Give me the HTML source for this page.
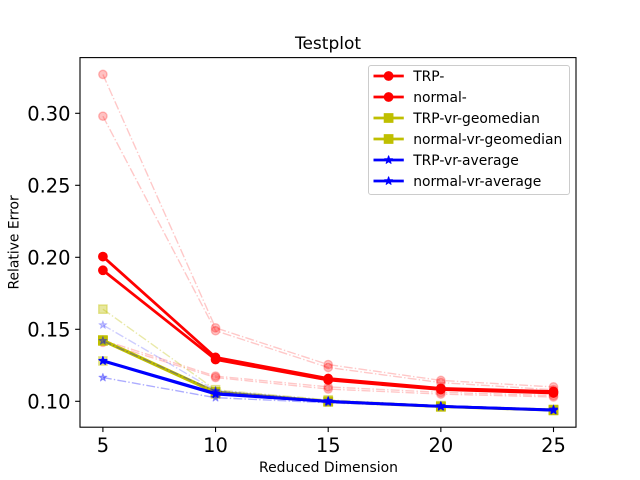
<!DOCTYPE html>
<html>
<head>
<meta charset="utf-8">
<title>Testplot</title>
<style>
html,body{margin:0;padding:0;background:#fff}
svg{display:block}
text{font-family:"DejaVu Sans","Liberation Sans",sans-serif;fill:#000}
</style>
</head>
<body>
<svg id="chart" xmlns="http://www.w3.org/2000/svg" width="640" height="480" viewBox="0 0 640 480">
<rect x="0" y="0" width="640" height="480" fill="#fff"/>
<g id="ticks"></g>
<g id="marks"></g>
<rect x="80" y="57.6" width="496" height="369.6" fill="none" stroke="#000" stroke-width="1.1"/>
<text x="328" y="49" font-size="17" text-anchor="middle">Testplot</text>
<text x="328.5" y="472" font-size="13.95" text-anchor="middle">Reduced Dimension</text>
<text x="0" y="0" transform="translate(18.5,242.4) rotate(-90)" font-size="13.89" text-anchor="middle">Relative Error</text>
<g id="legend">
<rect x="368.5" y="65.5" width="201" height="129" rx="2.5" fill="#fff" fill-opacity="0.8" stroke="#ccc" stroke-width="1"/>
</g>
</svg>
<script>
var categories = [5, 10, 15, 20, 25];
var xTickLabels = ["5", "10", "15", "20", "25"];
var yTicks = [0.10, 0.15, 0.20, 0.25, 0.30];
var yTickLabels = ["0.10", "0.15", "0.20", "0.25", "0.30"];

var trpMain = [0.2005, 0.1305, 0.1158, 0.1090, 0.1068];
var trpUpper = [0.327, 0.151, 0.1255, 0.1145, 0.110];
var trpLower = [0.1425, 0.1175, 0.110, 0.1062, 0.104];
var normalMain = [0.191, 0.129, 0.1148, 0.1082, 0.1058];
var normalUpper = [0.298, 0.149, 0.1235, 0.113, 0.108];
var normalLower = [0.141, 0.1165, 0.1085, 0.105, 0.103];
var geoTrpMain = [0.1425, 0.1065, 0.100, 0.0965, 0.094];
var geoTrpUpper = [0.164, 0.108, 0.101, 0.097, 0.0945];
var geoTrpLower = [0.128, 0.105, 0.0995, 0.096, 0.0935];
var geoNormalMain = [0.142, 0.106, 0.0998, 0.0963, 0.0938];
var avgTrpMain = [0.128, 0.105, 0.100, 0.0965, 0.094];
var avgTrpUpper = [0.153, 0.1075, 0.1005, 0.097, 0.0945];
var avgTrpLower = [0.1165, 0.1025, 0.099, 0.096, 0.0935];
var avgNormalMain = [0.1282, 0.1055, 0.0998, 0.0965, 0.0938];
var avgNormalUpper = [0.142, 0.107, 0.1005, 0.097, 0.0945];

var legendLabels = ["TRP-", "normal-", "TRP-vr-geomedian", "normal-vr-geomedian", "TRP-vr-average", "normal-vr-average"];
var legendColors = ["#ff0000", "#ff0000", "#bfbf00", "#bfbf00", "#0000ff", "#0000ff"];
var legendShapes = ["circle", "circle", "square", "square", "star", "star"];

var NS = "http://www.w3.org/2000/svg";
var PLOT_LEFT = 80, PLOT_RIGHT = 576, PLOT_TOP = 57.6, PLOT_BOTTOM = 427.2;
function xScale(v) { return 102.9 + (v - 5) * 22.53; }
function yScale(v) { return 401.3 - (v - 0.10) * 1440; }

function make(parent, tag, attrs) {
  var el = document.createElementNS(NS, tag);
  for (var k in attrs) { el.setAttribute(k, attrs[k]); }
  parent.appendChild(el);
  return el;
}

function starPoints(cx, cy, r) {
  var pts = [];
  for (var i = 0; i < 10; i++) {
    var rad = i % 2 === 0 ? r : r * 0.381966;
    var a = -Math.PI / 2 + i * Math.PI / 5;
    pts.push((cx + rad * Math.cos(a)).toFixed(2) + "," + (cy + rad * Math.sin(a)).toFixed(2));
  }
  return pts.join(" ");
}

function drawMarker(parent, shape, cx, cy, color, alpha) {
  var style = { fill: color, "fill-opacity": alpha, stroke: color, "stroke-opacity": alpha, "stroke-width": 1.39 };
  var el;
  if (shape === "circle") {
    style.cx = cx; style.cy = cy; style.r = 4.17;
    el = make(parent, "circle", style);
  } else if (shape === "square") {
    style.x = cx - 4.17; style.y = cy - 4.17; style.width = 8.33; style.height = 8.33;
    el = make(parent, "rect", style);
  } else {
    style.points = starPoints(cx, cy, 4.17);
    style["stroke-width"] = 1;
    style["stroke-linejoin"] = "round";
    el = make(parent, "polygon", style);
  }
  return el;
}

function drawSeries(name, values, color, shape, alpha) {
  var root = document.getElementById("marks");
  var g = make(root, "g", {});
  
  
  var pts = values.map(function (v, i) {
    return xScale(categories[i]).toFixed(2) + "," + yScale(v).toFixed(2);
  }).join(" ");
  var attrs = { points: pts, fill: "none", stroke: color, "stroke-linejoin": "round" };
  if (alpha < 1) {
    attrs["stroke-width"] = 1.39;
    attrs["stroke-opacity"] = alpha * 0.9;
    attrs["stroke-dasharray"] = "8.9 2.2 1.4 2.2";
  } else {
    attrs["stroke-width"] = 2.78;
  }
  var line = make(g, "polyline", attrs);
  
  
  values.forEach(function (v, i) {
    var m = drawMarker(g, shape, xScale(categories[i]), yScale(v), color, alpha);
    
    
  });
}

var R = "#ff0000", Y = "#bfbf00", B = "#0000ff";
drawSeries("trp-upper-band", trpUpper, R, "circle", 0.24);
drawSeries("trp-lower-band", trpLower, R, "circle", 0.24);
drawSeries("normal-upper-band", normalUpper, R, "circle", 0.24);
drawSeries("normal-lower-band", normalLower, R, "circle", 0.24);
drawSeries("trp-series", trpMain, R, "circle", 1);
drawSeries("normal-series", normalMain, R, "circle", 1);
drawSeries("trp-geomedian-upper-band", geoTrpUpper, Y, "square", 0.38);
drawSeries("trp-geomedian-lower-band", geoTrpLower, Y, "square", 0.38);
drawSeries("trp-geomedian-series", geoTrpMain, Y, "square", 1);
drawSeries("normal-geomedian-series", geoNormalMain, Y, "square", 1);
drawSeries("trp-average-upper-band", avgTrpUpper, B, "star", 0.22);
drawSeries("trp-average-lower-band", avgTrpLower, B, "star", 0.36);
drawSeries("normal-average-upper-band", avgNormalUpper, B, "star", 0.36);
drawSeries("trp-average-series", avgTrpMain, B, "star", 1);
drawSeries("normal-average-series", avgNormalMain, B, "star", 1);

var ticksRoot = document.getElementById("ticks");
categories.forEach(function (c, i) {
  var x = xScale(c);
  var t = make(ticksRoot, "line", { x1: x, x2: x, y1: PLOT_BOTTOM, y2: PLOT_BOTTOM + 4.86, stroke: "#000", "stroke-width": 1.1 });
  
  
  var l = make(ticksRoot, "text", { x: x, y: 452, "font-size": 19.44, "text-anchor": "middle" });
  l.textContent = xTickLabels[i];
  
  
});
yTicks.forEach(function (v, i) {
  var y = yScale(v);
  var t = make(ticksRoot, "line", { x1: PLOT_LEFT - 4.86, x2: PLOT_LEFT, y1: y, y2: y, stroke: "#000", "stroke-width": 1.1 });
  
  
  var l = make(ticksRoot, "text", { x: 70.5, y: y + 7, "font-size": 19.44, "text-anchor": "end" });
  l.textContent = yTickLabels[i];
  
  
});

var legendRoot = document.getElementById("legend");
legendLabels.forEach(function (label, i) {
  var y = 76 + i * 21;
  var g = make(legendRoot, "g", {});
  
  
  make(g, "line", { x1: 373.5, x2: 403.8, y1: y, y2: y, stroke: legendColors[i], "stroke-width": 2.78 });
  drawMarker(g, legendShapes[i], 388.6, y, legendColors[i], 1);
  var t = make(g, "text", { x: 413.2, y: y + 5, "font-size": 13.89 });
  t.textContent = label;
});
</script>
</body>
</html>
